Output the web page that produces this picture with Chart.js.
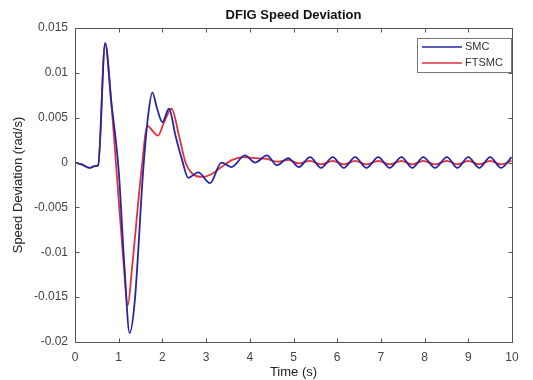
<!DOCTYPE html>
<html>
<head>
<meta charset="utf-8">
<script src="https://cdn.jsdelivr.net/npm/chart.js@4/dist/chart.umd.min.js"></script>
<style>
  html, body { margin: 0; padding: 0; background: #fff; }
  #wrap { width: 533px; height: 380px; }
</style>
</head>
<body>
<div id="wrap"><canvas id="chart" width="533" height="380"></canvas></div>
<script>
// values (time in s, deviation in rad/s)
const smcTime = [0, 0.15, 0.34, 0.45, 0.53, 0.69, 0.83, 1.0, 1.13, 1.25, 1.37, 1.56, 1.68, 1.77, 1.88, 2.0, 2.15, 2.3, 2.45,
  2.59, 2.82, 3.09, 3.35, 3.58, 3.89, 4.12, 4.39, 4.62, 4.88, 5.12, 5.38, 5.63, 5.9, 6.15, 6.41, 6.67, 6.94, 7.2,
  7.47, 7.72, 7.97, 8.24, 8.51, 8.75, 9.0, 9.25, 9.5, 9.75, 9.99];
const smcValues = [0, -0.0002, -0.0006, -0.0004, -0.0003, 0.0133, 0.0068, -0.0009, -0.0115, -0.019, -0.0153, -0.0009, 0.0055, 0.0078, 0.006, 0.0045, 0.006, 0.003, 0.0003,
  -0.0017, -0.0011, -0.0023, 0.0, -0.0005, 0.0008, 0.0, 0.0008, -0.0003, 0.0005, -0.0005, 0.0006, -0.0006, 0.0006, -0.0006, 0.0006, -0.0006, 0.0006, -0.0006,
  0.0006, -0.0006, 0.0006, -0.0006, 0.0006, -0.0006, 0.0006, -0.0006, 0.0006, -0.0006, 0.0006];

const ftsmcTime = [0, 0.15, 0.34, 0.45, 0.53, 0.69, 0.83, 0.95, 1.1, 1.21, 1.3, 1.52, 1.66, 1.78, 1.9, 2.03, 2.21, 2.38, 2.53,
  2.7, 2.92, 3.12, 3.35, 3.6, 3.85, 4.1, 4.39, 4.62, 4.88, 5.12, 5.38, 5.63, 5.9, 6.15, 6.41, 6.67, 6.94, 7.2,
  7.47, 7.72, 7.97, 8.24, 8.51, 8.75, 9.0, 9.25, 9.5, 9.75, 9.99];
const ftsmcValues = [0, -0.0002, -0.0006, -0.0004, -0.0003, 0.0133, 0.0067, -0.0009, -0.0105, -0.0159, -0.012, -0.0009, 0.0041, 0.0035, 0.003, 0.0044, 0.006, 0.003, 0.0,
  -0.0013, -0.0016, -0.0013, -0.0005, 0.0003, 0.0006, 0.0005, 0.0004, 0.0001, 0.0003, -0.0001, 0.0002, -0.0002, 0.0002, -0.0002, 0.0002, -0.0002, 0.0002, -0.0002,
  0.0002, -0.0002, 0.0002, -0.0002, 0.0002, -0.0002, 0.0002, -0.0002, 0.0002, -0.0002, 0.0002];

const seriesLabels = ['SMC', 'FTSMC'];
const xTickStep = 1;
const yTickStep = 0.005;

const FONT = '"Liberation Sans", Arial, Helvetica, sans-serif';
const toPoints = (xs, ys) => xs.map((t, i) => ({ x: t, y: ys[i] }));

// MATLAB-like axes box, inward ticks, title and legend
const matlabFrame = {
  id: 'matlabFrame',
  afterDatasetsDraw(chart) {
    const { ctx, chartArea: a, scales } = chart;
    const x = scales.x;
    const y = scales.y;
    ctx.save();
    ctx.strokeStyle = '#555';
    ctx.lineWidth = 1;
    const L = Math.round(a.left) + 0.5;
    const R = Math.round(a.right) + 0.5;
    const T = Math.round(a.top) + 0.5;
    const B = Math.round(a.bottom) + 0.5;
    ctx.strokeRect(L, T, R - L, B - T);
    ctx.beginPath();
    x.ticks.forEach((t) => {
      const px = Math.round(x.getPixelForValue(t.value)) + 0.5;
      ctx.moveTo(px, B); ctx.lineTo(px, B - 4);
      ctx.moveTo(px, T); ctx.lineTo(px, T + 4);
    });
    y.ticks.forEach((t) => {
      const py = Math.round(y.getPixelForValue(t.value)) + 0.5;
      ctx.moveTo(L, py); ctx.lineTo(L + 4, py);
      ctx.moveTo(R, py); ctx.lineTo(R - 4, py);
    });
    ctx.stroke();

    // title
    ctx.fillStyle = '#111';
    ctx.font = 'bold 13px ' + FONT;
    ctx.textAlign = 'center';
    ctx.textBaseline = 'middle';
    ctx.fillText('DFIG Speed Deviation', (a.left + a.right) / 2, 15);

    // legend
    const bx = 417, by = 38, bw = 94, bh = 34;
    ctx.fillStyle = '#fff';
    ctx.fillRect(bx, by, bw, bh);
    ctx.strokeStyle = '#777';
    ctx.strokeRect(bx + 0.5, by + 0.5, bw, bh);
    ctx.font = '11px ' + FONT;
    ctx.textAlign = 'left';
    chart.data.datasets.forEach((ds, i) => {
      const ly = by + 9 + i * 16;
      ctx.strokeStyle = ds.borderColor;
      ctx.lineWidth = 1.5;
      ctx.beginPath();
      ctx.moveTo(bx + 5, ly); ctx.lineTo(bx + 45, ly);
      ctx.stroke();
      ctx.fillStyle = '#333';
      ctx.fillText(ds.label, bx + 48, ly);
    });
    ctx.restore();
  },
};

new Chart(document.getElementById('chart'), {
  type: 'line',
  data: {
    datasets: [
      {
        label: seriesLabels[0],
        data: toPoints(smcTime, smcValues),
        borderColor: '#2626a2',
        borderWidth: 1.8,
        pointRadius: 0,
        cubicInterpolationMode: 'monotone',
      },
      {
        label: seriesLabels[1],
        data: toPoints(ftsmcTime, ftsmcValues),
        borderColor: '#e2303a',
        borderWidth: 1.8,
        pointRadius: 0,
        cubicInterpolationMode: 'monotone',
      },
    ],
  },
  options: {
    responsive: false,
    animation: false,
    layout: { padding: { left: 11, right: 21, top: 28, bottom: 0 } },
    plugins: {
      legend: { display: false },
      title: { display: false },
      tooltip: { enabled: false },
    },
    scales: {
      x: {
        type: 'linear',
        min: 0,
        max: 10,
        grid: { display: false, drawTicks: false },
        border: { display: false },
        ticks: { stepSize: xTickStep, color: '#444', padding: 8, font: { family: FONT, size: 12 } },
        title: { display: true, text: 'Time (s)', color: '#222', padding: 0, font: { family: FONT, size: 13 } },
        afterFit: (scale) => { scale.height = 38; },
      },
      y: {
        min: -0.02,
        max: 0.015,
        grid: { display: false, drawTicks: false },
        border: { display: false },
        ticks: {
          stepSize: yTickStep,
          color: '#444',
          padding: 7,
          font: { family: FONT, size: 12 },
          callback: (v) => String(Number(v.toFixed(3))),
        },
        title: { display: true, text: 'Speed Deviation (rad/s)', color: '#222', padding: 0, font: { family: FONT, size: 13 } },
        afterFit: (scale) => { scale.width = 64; },
      },
    },
  },
  plugins: [matlabFrame],
});
</script>
</body>
</html>
